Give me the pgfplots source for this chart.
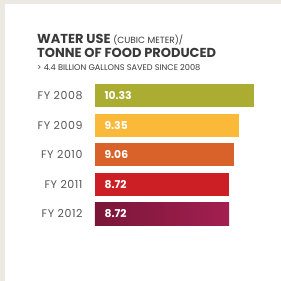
\documentclass[border=0pt]{standalone}
\usepackage{pgfplots}
\pgfplotsset{compat=1.18}
\usepackage{fontspec}
\setmainfont{Poppins}
\newfontfamily\wide[LetterSpace=5]{Poppins}
\definecolor{bg}{HTML}{ECE8E2}
\definecolor{titlegray}{HTML}{3A3A3A}
\definecolor{labgray}{HTML}{555555}
\definecolor{cA}{HTML}{ABAD32}
\definecolor{cB}{HTML}{FBB93A}
\definecolor{cC}{HTML}{D8622A}
\definecolor{cD}{HTML}{CC1F25}
\definecolor{cE1}{HTML}{7A1638}
\definecolor{cE2}{HTML}{A31F50}
\begin{document}
\begin{tikzpicture}[x=1pt,y=1pt]
\useasboundingbox (0,0) rectangle (281,-281);
\fill[bg] (0,0) rectangle (281,-281);
\fill[white] (5,-4) rectangle (281,-281);
\node[anchor=base west, inner sep=0, text=titlegray, font=\bfseries\fontsize{13}{15}\selectfont] at (37,-43) {WATER USE {\mdseries\fontsize{9}{10}\selectfont (CUBIC METER)/}};
\node[anchor=base west, inner sep=0, text=titlegray, font=\bfseries\fontsize{13}{15}\selectfont] at (37,-57) {TONNE OF FOOD PRODUCED};
\node[anchor=base west, inner sep=0, text=titlegray, font=\fontsize{8.2}{9}\selectfont] at (37,-70) {> 4.4 BILLION GALLONS SAVED SINCE 2008};
\begin{axis}[at={(95pt,-80.7pt)}, anchor=north west, scale only axis,
  width=215.5pt, height=148pt, xmin=0, xmax=14, ymin=-0.5, ymax=4.5,
  y dir=reverse, axis line style={draw=none}, major tick length=0pt,
  xtick=\empty, ytick={0,1,2,3,4},
  yticklabels={FY 2008,FY 2009,FY 2010,FY 2011,FY 2012},
  yticklabel style={font=\wide\fontsize{11}{12}\selectfont, text=labgray, xshift=-9pt},
  clip=false]
\addplot[xbar, bar shift=0pt, bar width=23pt, draw=none, fill=cA] coordinates {(10.33,0)};
\addplot[xbar, bar shift=0pt, bar width=23pt, draw=none, fill=cB] coordinates {(9.35,1)};
\addplot[xbar, bar shift=0pt, bar width=23pt, draw=none, fill=cC] coordinates {(9.06,2)};
\addplot[xbar, bar shift=0pt, bar width=23pt, draw=none, fill=cD] coordinates {(8.72,3)};
\addplot[xbar, bar shift=0pt, bar width=23pt, draw=none, left color=cE1, right color=cE2] coordinates {(8.72,4)};
\addplot[only marks, mark=none, point meta=explicit symbolic, nodes near coords,
  every node near coord/.style={anchor=west, xshift=6pt, text=white, font=\bfseries\fontsize{10.8}{12}\selectfont}]
  coordinates {(0,0) [10.33] (0,1) [9.35] (0,2) [9.06] (0,3) [8.72] (0,4) [8.72]};
\end{axis}
\end{tikzpicture}
\end{document}
